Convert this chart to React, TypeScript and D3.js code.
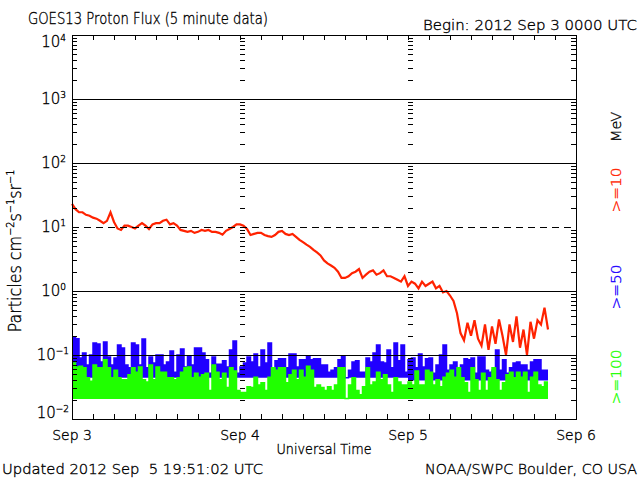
import React from "react";
import * as d3 from "d3";

// ---- data (30-minute bins starting 2012 Sep 3 00:00 UTC) ----
const startTime = Date.UTC(2012, 8, 3, 0, 0);
const stepMinutes = 30;

// >=10 MeV
const p10: number[] = [
  23, 19, 17, 17, 15.5, 15, 14, 13.5, 12.5, 11.5,
  12.5, 17, 12, 9.5, 9, 10.5, 10.5, 10, 9.5, 10.5,
  11.5, 10.5, 9.3, 11, 11.5, 11.5, 12.5, 13, 11, 11.5,
  10.5, 9, 8.7, 8.4, 8.7, 8.1, 8.4, 9, 8.7, 9,
  8.4, 8.4, 8.1, 7.6, 8.7, 9.3, 10, 11, 11, 10.5,
  9.3, 7.5, 7.8, 8.1, 8.1, 7.5, 7.2, 7.0, 7.5, 8.4,
  8.7, 7.8, 7.5, 7.8, 7.0, 6.3, 5.8, 5.3, 4.9, 4.4,
  4.0, 3.6, 3.0, 2.7, 2.5, 2.3, 2.0, 1.6, 1.6, 1.7,
  1.9, 2.0, 2.2, 1.6, 1.8, 2.0, 2.1, 1.8, 1.9, 2.1,
  1.7, 1.7, 1.6, 1.5, 1.4, 1.7, 1.2, 1.4, 1.3, 1.1,
  1.4, 1.2, 1.3, 1.4, 1.1, 1.2, 0.95, 1.0, 0.85, 0.7,
  0.45, 0.22, 0.17, 0.32, 0.2, 0.35, 0.18, 0.14, 0.3, 0.12,
  0.28, 0.15, 0.36, 0.2, 0.1, 0.3, 0.16, 0.4, 0.13, 0.25,
  0.1, 0.33, 0.18, 0.35, 0.3, 0.55, 0.25,
];

// >=50 MeV (upper envelope per bin)
const p50: number[] = [
  0.19, 0.18, 0.09, 0.107, 0.07, 0.1, 0.154, 0.149, 0.078, 0.16,
  0.093, 0.07, 0.09, 0.143, 0.129, 0.07, 0.063, 0.154, 0.143, 0.07,
  0.178, 0.063, 0.093, 0.075, 0.1, 0.1, 0.07, 0.078, 0.115, 0.054,
  0.1, 0.124, 0.065, 0.097, 0.07, 0.129, 0.129, 0.107, 0.084, 0.052,
  0.093, 0.072, 0.072, 0.081, 0.065, 0.12, 0.165, 0.052, 0.065, 0.075,
  0.093, 0.078, 0.104, 0.065, 0.12, 0.075, 0.154, 0.063, 0.081, 0.087,
  0.087, 0.063, 0.104, 0.104, 0.065, 0.084, 0.084, 0.097, 0.084, 0.087,
  0.087, 0.07, 0.07, 0.054, 0.058, 0.063, 0.084, 0.097, 0.044, 0.058,
  0.078, 0.081, 0.054, 0.054, 0.09, 0.078, 0.107, 0.143, 0.078, 0.075,
  0.12, 0.063, 0.154, 0.081, 0.143, 0.054, 0.084, 0.09, 0.063, 0.104,
  0.065, 0.087, 0.09, 0.052, 0.07, 0.1, 0.143, 0.058, 0.07, 0.078,
  0.052, 0.07, 0.087, 0.084, 0.09, 0.052, 0.093, 0.093, 0.058, 0.054,
  0.058, 0.12, 0.058, 0.084, 0.052, 0.063, 0.075, 0.078, 0.07, 0.07,
  0.058, 0.078, 0.084, 0.084, 0.058, 0.058, 0.058,
];
// >=50 MeV background level for Sep 3, Sep 4, Sep 5
const p50Floor: number[] = [0.044, 0.044, 0.04];

// >=100 MeV (upper envelope per bin)
const p100: number[] = [
  0.075, 0.065, 0.067, 0.063, 0.044, 0.039, 0.07, 0.063, 0.063, 0.084,
  0.063, 0.044, 0.058, 0.044, 0.041, 0.041, 0.049, 0.063, 0.054, 0.065,
  0.041, 0.038, 0.07, 0.041, 0.065, 0.054, 0.054, 0.044, 0.044, 0.041,
  0.044, 0.054, 0.063, 0.065, 0.044, 0.052, 0.045, 0.049, 0.052, 0.028,
  0.07, 0.054, 0.041, 0.052, 0.031, 0.063, 0.056, 0.028, 0.026, 0.026,
  0.032, 0.031, 0.045, 0.034, 0.037, 0.028, 0.045, 0.063, 0.058, 0.063,
  0.063, 0.037, 0.049, 0.058, 0.041, 0.058, 0.045, 0.067, 0.058, 0.031,
  0.034, 0.031, 0.028, 0.032, 0.028, 0.034, 0.063, 0.063, 0.021, 0.034,
  0.044, 0.028, 0.024, 0.032, 0.063, 0.034, 0.038, 0.054, 0.041, 0.049,
  0.034, 0.026, 0.044, 0.038, 0.034, 0.034, 0.038, 0.034, 0.056, 0.034,
  0.034, 0.058, 0.054, 0.034, 0.041, 0.032, 0.045, 0.052, 0.058, 0.045,
  0.063, 0.044, 0.037, 0.026, 0.063, 0.041, 0.028, 0.052, 0.028, 0.044,
  0.063, 0.041, 0.028, 0.037, 0.049, 0.054, 0.044, 0.054, 0.045, 0.054,
  0.026, 0.045, 0.054, 0.034, 0.032, 0.038, 0.038,
];
const p100Floor: number[] = [0.0205, 0.0205, 0.0205];

const decades: number[] = [-2, -1, 0, 1, 2, 3, 4];
const dayLabels: string[] = ["Sep 3", "Sep 4", "Sep 5", "Sep 6"];
const legendItems: string[] = ["MeV", ">=10", ">=50", ">=100"];

const RED = "#ff2200";
const BLUE = "#2000ff";
const GREEN = "#20ff00";
const FONT = "'DejaVu Sans', sans-serif";
const WEIGHT = 200;

const tOf = (i: number) => new Date(startTime + i * stepMinutes * 60000);
const dayOf = (i: number) => Math.floor((i * stepMinutes) / 1440);

export default function App() {
  const x = d3
    .scaleUtc()
    .domain([new Date(Date.UTC(2012, 8, 3)), new Date(Date.UTC(2012, 8, 6))])
    .range([72, 576]);
  const y = d3.scaleLog().domain([1e-2, 1e4]).range([419, 35]);

  const redLine = d3
    .line<number>()
    .x((_, i) => x(tOf(i)))
    .y((d) => y(d))
    .curve(d3.curveLinear);

  const band = (floor: number[]) =>
    d3
      .area<number>()
      .x((_, i) => x(tOf(i)))
      .y0((_, i) => y(floor[Math.min(dayOf(i), floor.length - 1)]))
      .y1((d) => y(d))
      .curve(d3.curveStepAfter);
  const topLine = d3
    .line<number>()
    .x((_, i) => x(tOf(i)))
    .y((d) => y(d))
    .curve(d3.curveStepAfter);

  const minor: number[] = [];
  for (let e = -2; e < 4; e++) for (let k = 2; k <= 9; k++) minor.push(k * Math.pow(10, e));

  const hourTicks = x.ticks(d3.utcHour.every(3)!);
  const dayTicks = x.ticks(d3.utcDay.every(1)!);
  const innerDays = dayTicks.slice(1, -1);

  const [x0, x1] = x.range();
  const [yb, yt] = y.range();

  const legendY = [127, 190, 287, 377];
  const legendColor = ["#000", RED, BLUE, GREEN];
  const legendLen = [30, 45, 45, 55];

  return (
    <svg
      width={640}
      height={480}
      style={{ position: "absolute", left: 0, top: 0, background: "#fff" }}
      fontFamily={FONT}
      fontWeight={WEIGHT}
    >
      <rect x={0} y={0} width={640} height={480} fill="#fff" />

      {/* data */}
      <path d={band(p50Floor)(p50) || ""} fill={BLUE} />
      <path d={topLine(p50) || ""} fill="none" stroke={BLUE} strokeWidth={1.5} />
      <path d={band(p100Floor)(p100) || ""} fill={GREEN} />
      <path d={topLine(p100) || ""} fill="none" stroke={GREEN} strokeWidth={1.5} />
      <path d={redLine(p10) || ""} fill="none" stroke={RED} strokeWidth={2.2} strokeLinejoin="miter" />

      {/* grid lines */}
      <g shapeRendering="crispEdges">
        {decades
          .filter((e) => e > -2 && e < 4)
          .map((e) => (
            <line
              key={e}
              x1={x0}
              x2={x1}
              y1={Math.round(y(Math.pow(10, e))) + 0.5}
              y2={Math.round(y(Math.pow(10, e))) + 0.5}
              stroke="#000"
              strokeWidth={1.3}
              strokeDasharray={e === 1 ? "7,5" : undefined}
            />
          ))}
        <rect x={x0 + 0.5} y={yt + 0.5} width={x1 - x0} height={yb - yt} fill="none" stroke="#000" strokeWidth={1.3} />
        {minor.map((v, i) => {
          const yy = Math.round(y(v)) + 0.5;
          return (
            <g key={i}>
              <line x1={x0} x2={x0 + 5} y1={yy} y2={yy} stroke="#000" />
              <line x1={x1 - 5} x2={x1} y1={yy} y2={yy} stroke="#000" />
              {innerDays.map((d, j) => (
                <line key={j} x1={x(d)} x2={x(d) + 5} y1={yy} y2={yy} stroke="#000" />
              ))}
            </g>
          );
        })}
        {hourTicks.map((t, i) => {
          const xx = Math.round(x(t)) + 0.5;
          return (
            <g key={i}>
              <line x1={xx} x2={xx} y1={yb} y2={yb - 5} stroke="#000" />
              <line x1={xx} x2={xx} y1={yt} y2={yt + 5} stroke="#000" />
            </g>
          );
        })}
      </g>

      <g stroke="currentColor" strokeWidth={0.35}>
        {/* y tick labels */}
        {decades.map((e) => {
          let yy = y(Math.pow(10, e)) + 5;
          if (e === 4) yy = 47;
          if (e === -2) yy = 418;
          const exp = e < 0 ? "\u2212" + Math.abs(e) : String(e);
          return (
            <text key={e} x={e < 0 ? 69 : 66} y={yy} fontSize={15} textAnchor="end" fill="#000" stroke="#000">
              10
              <tspan dy={-6} fontSize={9}>
                {exp}
              </tspan>
            </text>
          );
        })}

        {/* x labels */}
        {dayTicks.map((d, i) => (
          <text key={i} x={x(d)} y={440} fontSize={14} textAnchor="middle" fill="#000" stroke="#000">
            {dayLabels[i]}
          </text>
        ))}
        <text x={324} y={454} fontSize={14} textAnchor="middle" textLength={95} lengthAdjust="spacingAndGlyphs" stroke="#000">
          Universal Time
        </text>

        {/* titles */}
        <text x={28} y={24} fontSize={15} textLength={240} lengthAdjust="spacingAndGlyphs" stroke="#000">
          GOES13 Proton Flux (5 minute data)
        </text>
        <text x={637} y={30} fontSize={14} textAnchor="end" textLength={214} lengthAdjust="spacingAndGlyphs" stroke="#000">
          Begin: 2012 Sep 3 0000 UTC
        </text>
        <text x={2} y={474} fontSize={14} textLength={261} lengthAdjust="spacingAndGlyphs" style={{ whiteSpace: "pre" }} stroke="#000">
          {"Updated 2012 Sep  5 19:51:02 UTC"}
        </text>
        <text x={637} y={474} fontSize={14} textAnchor="end" textLength={212} lengthAdjust="spacingAndGlyphs" stroke="#000">
          NOAA/SWPC Boulder, CO USA
        </text>

        {/* y axis title */}
        <text transform="translate(21,251) rotate(-90)" fontSize={18} textAnchor="middle" textLength={163} lengthAdjust="spacingAndGlyphs" stroke="#000">
          Particles cm
          <tspan dy={-7} fontSize={11}>−2</tspan>
          <tspan dy={7}>s</tspan>
          <tspan dy={-7} fontSize={11}>−1</tspan>
          <tspan dy={7}>sr</tspan>
          <tspan dy={-7} fontSize={11}>−1</tspan>
        </text>

        {/* legend */}
        {legendItems.map((s, i) => (
          <text
            key={i}
            transform={`translate(621,${legendY[i]}) rotate(-90)`}
            fontSize={14}
            textAnchor="middle"
            fill={legendColor[i]}
            stroke={legendColor[i]}
            textLength={legendLen[i]}
            lengthAdjust="spacingAndGlyphs"
          >
            {s}
          </text>
        ))}
      </g>
    </svg>
  );
}
